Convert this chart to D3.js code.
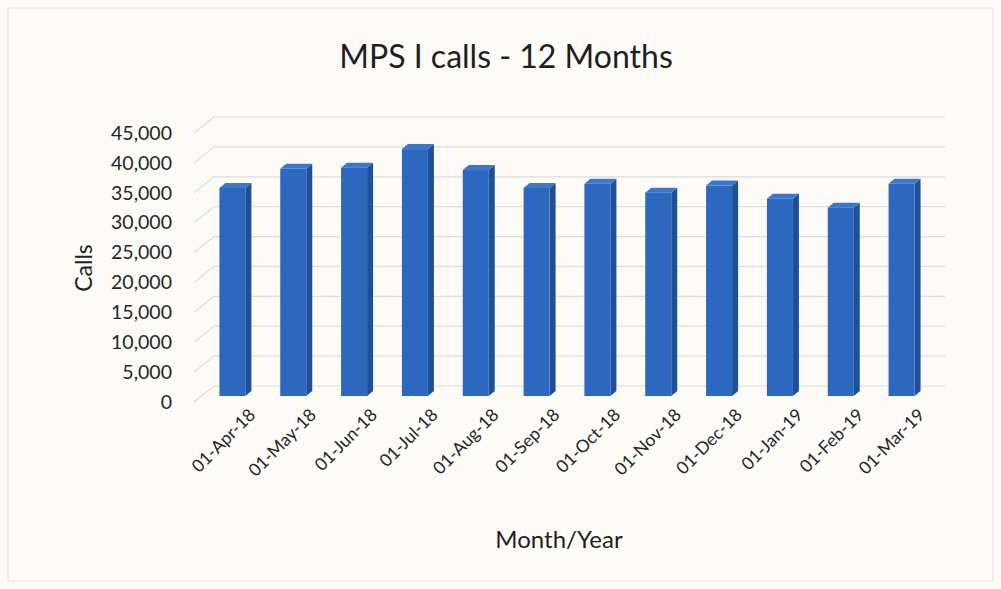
<!DOCTYPE html>
<html>
<head>
<meta charset="utf-8">
<script src="https://cdn.jsdelivr.net/npm/d3@7"></script>
<style>
  body { margin: 0; background: #fbfaf6; }
  svg { display: block; font-family: Lato, "Open Sans", sans-serif; }
</style>
</head>
<body>
<svg width="1001" height="589"></svg>
<script>
const months = ["01-Apr-18", "01-May-18", "01-Jun-18", "01-Jul-18", "01-Aug-18", "01-Sep-18",
  "01-Oct-18", "01-Nov-18", "01-Dec-18", "01-Jan-19", "01-Feb-19", "01-Mar-19"];
const calls = [34800, 38000, 38200, 41300, 37800, 34800, 35500, 34000, 35200, 33000, 31500, 35500];
const yTicks = [0, 5000, 10000, 15000, 20000, 25000, 30000, 35000, 40000, 45000];

const svg = d3.select("svg"),
  width = +svg.attr("width"),
  height = +svg.attr("height");

// fake 3d: front plane, back wall is shifted up/right
const wallDx = 20, wallDy = -16;
const barDy = -6, sideDx = 6, sideDy = -5, barW = 26;

const y = d3.scaleLinear().domain([0, 45000]).range([402, 133]);
const x = d3.scalePoint().domain(months).range([202, 932]).padding(0.5);

svg.append("rect")
  .attr("x", 8).attr("y", 8)
  .attr("width", width - 16).attr("height", height - 16)
  .attr("fill", "#fcfbf8")
  .attr("stroke", "#e6e4df");

// gridlines: back wall + left side wall
const grid = svg.append("g").attr("stroke", "#dcdcda").attr("stroke-width", 1.2);
grid.selectAll("line.back")
  .data(yTicks)
  .enter().append("line")
  .attr("class", "back")
  .attr("x1", 194 + wallDx).attr("x2", 945)
  .attr("y1", d => y(d) + wallDy).attr("y2", d => y(d) + wallDy);
grid.selectAll("line.side")
  .data(yTicks)
  .enter().append("line")
  .attr("class", "side")
  .attr("x1", 194).attr("x2", 194 + wallDx)
  .attr("y1", d => y(d)).attr("y2", d => y(d) + wallDy);

// bars
const bars = svg.append("g").selectAll("g")
  .data(months.map((m, i) => ({ m, v: calls[i] })))
  .enter().append("g");

bars.append("path")
  .attr("fill", "#1f4f97")
  .attr("d", d => {
    const x1 = x(d.m) + barW / 2, yt = y(d.v) + barDy, yb = y(0) + barDy;
    return `M${x1},${yb} L${x1},${yt} L${x1 + sideDx},${yt + sideDy} L${x1 + sideDx},${yb + sideDy} Z`;
  });

bars.append("path")
  .attr("fill", "#3c77cb")
  .attr("d", d => {
    const x0 = x(d.m) - barW / 2, x1 = x0 + barW, yt = y(d.v) + barDy;
    return `M${x0},${yt} L${x0 + sideDx},${yt + sideDy} L${x1 + sideDx},${yt + sideDy} L${x1},${yt} Z`;
  });

bars.append("rect")
  .attr("fill", "#2d68c0")
  .attr("x", d => x(d.m) - barW / 2)
  .attr("width", barW)
  .attr("y", d => y(d.v) + barDy)
  .attr("height", d => y(0) - y(d.v));

// y axis labels
svg.append("g").selectAll("text")
  .data(yTicks)
  .enter().append("text")
  .attr("x", 172)
  .attr("y", d => y(d))
  .attr("dy", "0.35em")
  .attr("text-anchor", "end")
  .attr("font-size", 19.5)
  .attr("fill", "#262626")
  .text(d => d3.format(",")(d));

// x axis labels
svg.append("g").selectAll("text")
  .data(months)
  .enter().append("text")
  .attr("transform", d => `translate(${x(d) + 24},${416}) rotate(-45)`)
  .attr("text-anchor", "end")
  .attr("font-size", 17.5)
  .attr("fill", "#262626")
  .text(d => d);

svg.append("text")
  .attr("x", 506).attr("y", 68)
  .attr("text-anchor", "middle")
  .attr("font-size", 32)
  .attr("fill", "#1f1f1f")
  .text("MPS I calls - 12 Months");

svg.append("text")
  .attr("transform", "translate(92,268) rotate(-90)")
  .attr("text-anchor", "middle")
  .attr("font-size", 23)
  .attr("fill", "#1f1f1f")
  .text("Calls");

svg.append("text")
  .attr("x", 559).attr("y", 548)
  .attr("text-anchor", "middle")
  .attr("font-size", 24)
  .attr("fill", "#1f1f1f")
  .text("Month/Year");
</script>
</body>
</html>
